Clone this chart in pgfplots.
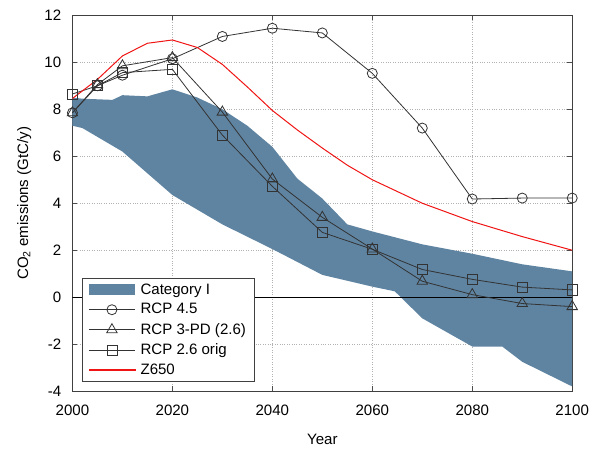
\documentclass[border={12bp 0bp 2bp 5bp}]{standalone}
\usepackage{pgfplots}
\pgfplotsset{compat=1.18}
\usepackage{fontspec}
\setmainfont{Liberation Sans}
\definecolor{bandblue}{HTML}{5F84A1}
\definecolor{rcpgray}{HTML}{333333}
\definecolor{zred}{RGB}{240,20,20}
\pgfplotsset{
    longline legend/.style={legend image code/.code={%
        \draw[mark repeat=2,mark phase=2,##1]
        plot coordinates {(0bp,0bp) (23bp,0bp) (46bp,0bp)};}},
    band legend/.style={legend image code/.code={%
        \fill[##1] (0bp,-5.5bp) rectangle (46bp,5.5bp);}},
    red legend/.style={legend image code/.code={%
        \color{zred}%
        \filldraw[draw=zred, fill=zred, line width=0.2pt]
        (0bp,-0.5bp) rectangle (46bp,0.5bp);}},
}
\begin{document}
\fontsize{15}{18}\selectfont
\begin{tikzpicture}
\begin{axis}[
    scale only axis,
    width=496bp, height=373bp,
    xmin=2000, xmax=2100, ymin=-4, ymax=12,
    xtick={2000,2020,...,2100},
    ytick={-4,-2,...,12},
    /pgf/number format/assume math mode=true,
    /pgf/number format/set thousands separator={},
    tick align=inside,
    major tick length=5bp,
    tick style={black!70, line width=0.8pt},
    axis line style={black!75, line width=0.8pt},
    grid=major,
    major grid style={gray!60, dotted, line width=0.8pt},
    xticklabel style={yshift=-9bp},
    yticklabel style={xshift=-6bp},
    xlabel={Year},
    ylabel={CO\textsubscript{2} emissions (GtC/y)},
    xlabel style={yshift=-8bp},
    ylabel style={yshift=3bp},
    legend cell align=left,
    legend style={at={(rel axis cs:0.019,0.025)}, anchor=south west,
        draw=black!75, line width=0.8pt, inner xsep=6bp, inner ysep=3bp,
        row sep=3bp, font=\fontsize{15}{18}\selectfont,
        /tikz/every odd column/.append style={column sep=3bp}},
    longline legend,
]
% Category I band (upper edge, then lower edge back)
\addplot[fill=bandblue, draw=none, band legend]
coordinates {
(2000,8.5) (2002,8.45) (2008,8.4) (2010,8.6) (2015,8.55) (2020,8.85)
(2025,8.5) (2030,8.0) (2035,7.3) (2040,6.4) (2045,5.05) (2050,4.2)
(2055,3.1) (2060,2.8) (2070,2.25) (2080,1.85) (2090,1.4) (2100,1.1)
(2100,-3.8) (2090,-2.75) (2086,-2.1) (2080,-2.1) (2070,-0.9)
(2064.5,0.25) (2060,0.45) (2050,0.95) (2045,1.5) (2040,2.05)
(2030,3.1) (2020,4.35) (2010,6.2) (2002,7.2) (2000,7.3)
} -- cycle;
\addlegendentry{Category I}
\addplot[black, line width=0.8pt, forget plot] coordinates {(2000,0) (2100,0)};
% RCP 4.5
\addplot[rcpgray, line width=0.8pt, mark=o, mark size=5bp,
    mark options={solid, fill=none}] coordinates {
(2000,7.85) (2005,9.0) (2010,9.45) (2020,10.15) (2030,11.1) (2040,11.45)
(2050,11.25) (2060,9.53) (2070,7.2) (2080,4.18) (2090,4.22) (2100,4.22)
};
\addlegendentry{RCP 4.5}
% RCP 3-PD (2.6)
\addplot[rcpgray, line width=0.8pt, mark=triangle, mark size=6bp,
    mark options={solid, fill=none}] coordinates {
(2000,7.85) (2005,9.05) (2010,9.85) (2020,10.2) (2030,7.88) (2040,5.03)
(2050,3.4) (2060,2.05) (2070,0.68) (2080,0.11) (2090,-0.27) (2100,-0.4)
};
\addlegendentry{RCP 3-PD (2.6)\hspace{10bp}}
% RCP 2.6 orig
\addplot[rcpgray, line width=0.8pt, mark=square, mark size=5bp,
    mark options={solid, fill=none}] coordinates {
(2000,8.65) (2005,9.0) (2010,9.56) (2020,9.7) (2030,6.9) (2040,4.72)
(2050,2.76) (2060,2.04) (2070,1.18) (2080,0.76) (2090,0.43) (2100,0.31)
};
\addlegendentry{RCP 2.6 orig}
% Z650
\addplot[draw=zred, line width=1pt, no marks, red legend] coordinates {
(2000,8.46) (2005,9.27) (2010,10.27) (2015,10.81) (2020,10.95) (2025,10.63)
(2030,9.91) (2035,8.95) (2040,7.95) (2045,7.12) (2050,6.35) (2055,5.62)
(2060,5.0) (2070,4.0) (2080,3.22) (2090,2.58) (2100,2.0)
};
\addlegendentry{Z650}
\end{axis}
\end{tikzpicture}
\end{document}
